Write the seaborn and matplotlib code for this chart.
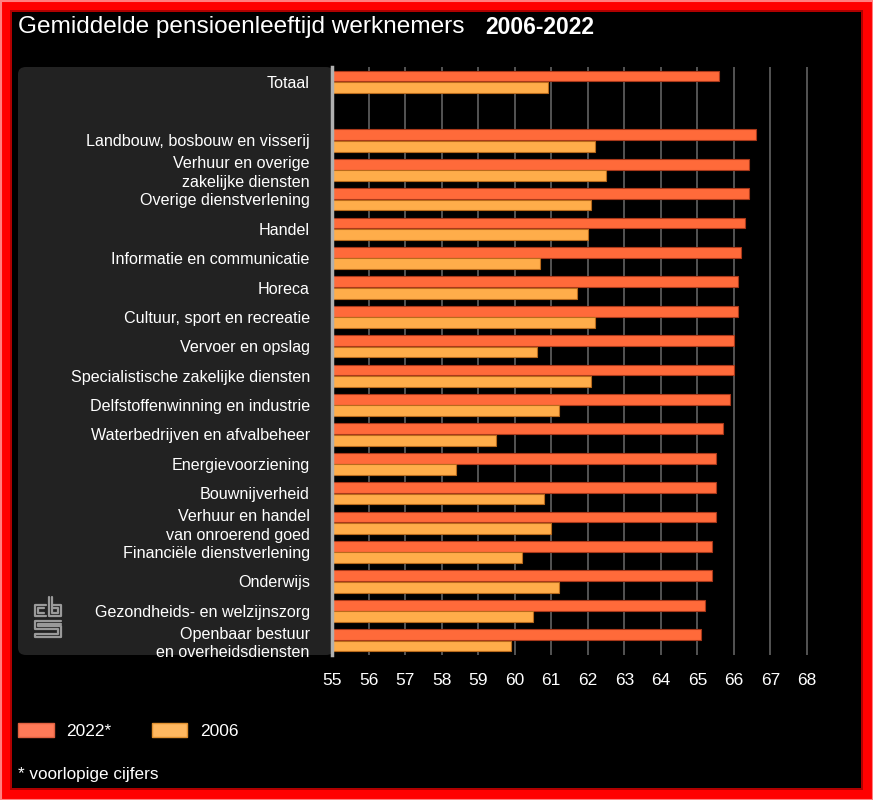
import matplotlib
matplotlib.use("Agg")
import matplotlib.pyplot as plt
import seaborn as sns
import pandas as pd
from matplotlib.patches import Rectangle, FancyBboxPatch, Patch
from matplotlib.lines import Line2D

categories = ["Totaal", "Landbouw, bosbouw en visserij", "Verhuur en overige\nzakelijke diensten",
              "Overige dienstverlening", "Handel", "Informatie en communicatie", "Horeca",
              "Cultuur, sport en recreatie", "Vervoer en opslag", "Specialistische zakelijke diensten",
              "Delfstoffenwinning en industrie", "Waterbedrijven en afvalbeheer", "Energievoorziening",
              "Bouwnijverheid", "Verhuur en handel\nvan onroerend goed", "Financiële dienstverlening",
              "Onderwijs", "Gezondheids- en welzijnszorg", "Openbaar bestuur\nen overheidsdiensten"]
values_2022 = [65.6, 66.6, 66.4, 66.4, 66.3, 66.2, 66.1, 66.1, 66.0, 66.0, 65.9, 65.7, 65.5, 65.5, 65.5, 65.4, 65.4, 65.2, 65.1]
values_2006 = [60.9, 62.2, 62.5, 62.1, 62.0, 60.7, 61.7, 62.2, 60.6, 62.1, 61.2, 59.5, 58.4, 60.8, 61.0, 60.2, 61.2, 60.5, 59.9]
series = ["2022*", "2006"]
x_ticks = list(range(55, 69))

order = [categories[0], " "] + categories[1:]

df = pd.DataFrame({
    "cat": categories * 2,
    "val": values_2022 + values_2006,
    "serie": [series[0]] * len(categories) + [series[1]] * len(categories),
})

W, H = 873, 800
sns.set_theme(style="dark")
plt.rcParams["font.family"] = ["Liberation Sans", "DejaVu Sans"]
fig = plt.figure(figsize=(W / 100, H / 100), dpi=100)
fig.patch.set_facecolor("#ff0000")

def px(x0, y0, w, h):
    return (x0 / W, 1 - (y0 + h) / H, w / W, h / H)

# frame
fig.add_artist(Rectangle((0, 0), 1, 1, transform=fig.transFigure, facecolor="#ff0000", edgecolor="none", zorder=-10))
fig.add_artist(Rectangle((0.5 / W, 0.5 / H), 1 - 1 / W, 1 - 1 / H, transform=fig.transFigure, facecolor="none",
                         edgecolor="#ff8080", lw=1.5, zorder=-9))
b = px(10, 10, 853, 780)
fig.add_artist(Rectangle((b[0], b[1]), b[2], b[3], transform=fig.transFigure, facecolor="#b00000", edgecolor="none", zorder=-9))
b = px(12, 12, 849, 776)
fig.add_artist(Rectangle((b[0], b[1]), b[2], b[3], transform=fig.transFigure, facecolor="black", edgecolor="none", zorder=-8))

# left label panel
b = px(18, 67, 316, 588)
fig.add_artist(FancyBboxPatch((b[0], b[1]), b[2], b[3], boxstyle="round,pad=0,rounding_size=0.009",
                              transform=fig.transFigure, facecolor="#222222", edgecolor="none", zorder=-7))

ax = fig.add_axes(px(332, 67, 486, 588))
ax.set_facecolor("none")
palette = {"2022*": "#ff6a3a", "2006": "#ffad4a"}
sns.barplot(data=df, y="cat", x="val", hue="serie", order=order, hue_order=series,
            palette=palette, orient="h", width=0.78, gap=0.06, saturation=1, ax=ax, legend=False)
edges = ["#a8381a", "#b86a1c"]
for cont, ec in zip(ax.containers, edges):
    for p in cont:
        p.set_edgecolor(ec)
        p.set_linewidth(0.8)

ax.set_xlim(55, 68.3)
ax.set_ylim(len(order) - 0.5, -0.5)
ax.set_xticks(x_ticks)
ax.set_xticklabels([str(t) for t in x_ticks])
ax.grid(axis="x", color="#5a5a5a", lw=1.3)
ax.grid(axis="y", visible=False)
ax.set_axisbelow(True)
ax.tick_params(axis="x", length=0, pad=13, labelsize=12.5, labelcolor="white")
ax.tick_params(axis="y", length=0, pad=16, labelsize=11.6, labelcolor="white")
for lbl in ax.get_yticklabels():
    lbl.set_linespacing(1.3)
ax.set_xlabel("")
ax.set_ylabel("")
for s in ["top", "right", "bottom"]:
    ax.spines[s].set_visible(False)
ax.spines["left"].set_color("#b0b0b0")
ax.spines["left"].set_linewidth(2.5)

# title
fig.text(18 / W, 1 - 27 / H, "Gemiddelde pensioenleeftijd werknemers", color="white", fontsize=17.6,
         va="center", ha="left")
fig.text(485 / W, 1 - 27 / H, "2006-2022", color="white", fontsize=16.5, fontweight="bold",
         va="center", ha="left")

# legend
handles = [Patch(facecolor="#ff7a58", edgecolor="#e06040", label=series[0]),
           Patch(facecolor="#ffb860", edgecolor="#e09030", label=series[1])]
fig.legend(handles=handles, loc="center left", bbox_to_anchor=(18 / W, 1 - 731 / H), ncol=2, frameon=False,
           fontsize=12.5, labelcolor="white", handlelength=2.05, handleheight=0.85, handletextpad=0.75,
           columnspacing=2.3, borderpad=0, borderaxespad=0)

fig.text(18 / W, 1 - 775 / H, "* voorlopige cijfers", color="white", fontsize=12.3, va="center", ha="left")

# cbs logo
def pline(pts):
    xs = [p[0] / W for p in pts]
    ys = [1 - p[1] / H for p in pts]
    fig.add_artist(Line2D(xs, ys, transform=fig.transFigure, color="#9a9a9a", lw=1.6))

pline([(46, 605), (35, 605), (35, 616), (46, 616)])
pline([(44, 608), (38, 608), (38, 613), (44, 613)])
pline([(49, 597), (49, 616), (61, 616), (61, 605), (52, 605)])
pline([(52, 597), (52, 613), (58, 613), (58, 608), (52, 608)])
pline([(61, 621), (35, 621), (35, 629), (58, 629), (58, 634), (35, 634), (35, 637), (61, 637), (61, 626), (38, 626), (38, 624), (61, 624)])

fig.savefig("out.png", dpi=100, facecolor=fig.get_facecolor())
